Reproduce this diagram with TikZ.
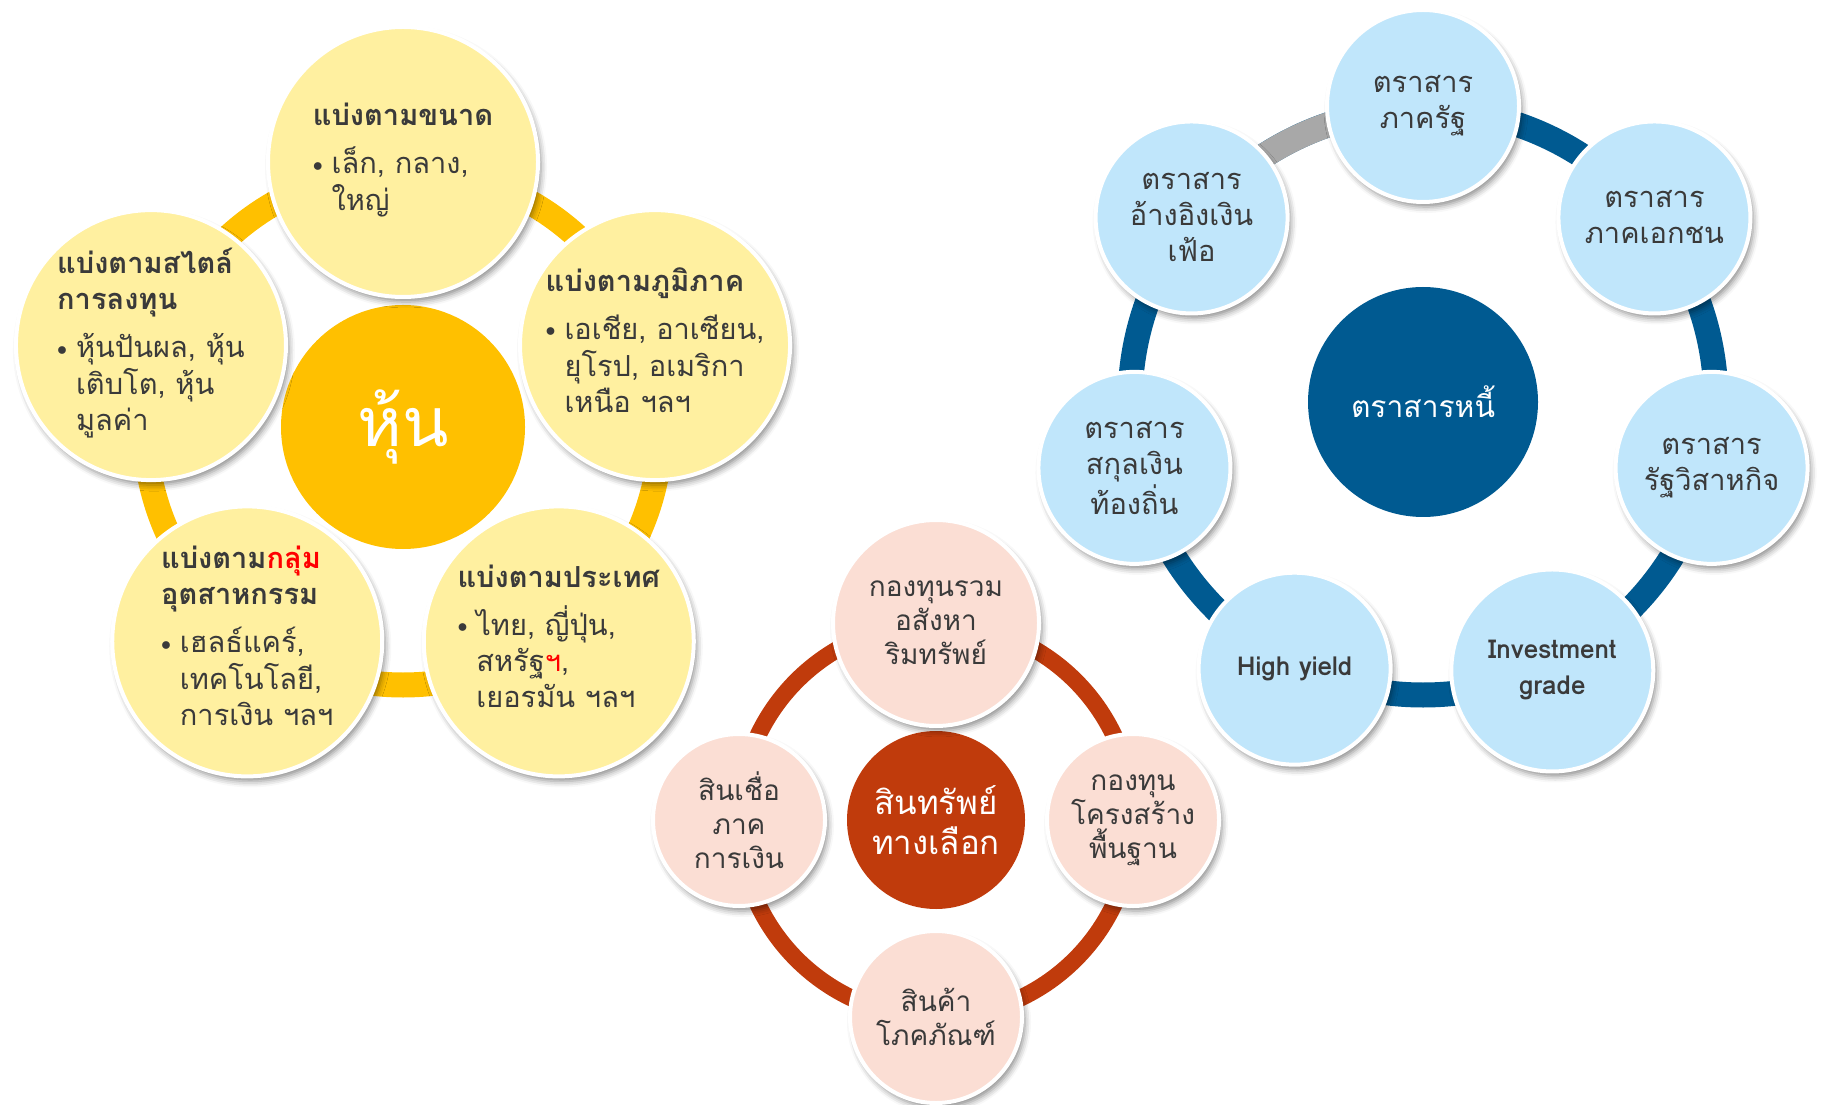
\documentclass[tikz,border=0pt]{standalone}
\usepackage{fontspec}
\setmainfont[Script=Thai]{Loma}
\usepackage{tikz}
\usetikzlibrary{calc}
\usetikzlibrary{shadows.blur}

\definecolor{gold}{HTML}{FFC000}
\definecolor{lightgold}{HTML}{FFF0A0}
\definecolor{debtblue}{HTML}{005A91}
\definecolor{skyblue}{HTML}{C0E6FB}
\definecolor{ringgray}{HTML}{A8A8A8}
\definecolor{rust}{HTML}{C03B0C}
\definecolor{peach}{HTML}{FBDED4}
\definecolor{darktext}{HTML}{3A3A3A}

\newcommand{\bulitem}[1]{\makebox[0.65em][l]{\raisebox{1.2pt}{\fontsize{10}{10}\selectfont$\bullet$}}\begin{tabular}[t]{@{}l@{}}#1\end{tabular}}

\begin{document}
\begin{tikzpicture}[x=0.5pt, y=0.5pt,
		  every node/.style = {align=center, text=darktext},
		  bubble/.style = {circle, draw=white, line width=2pt, inner sep=0pt,
		    blur shadow={shadow xshift=1.5pt, shadow yshift=-2.5pt, shadow blur radius=3pt, shadow opacity=45}},
		  stockbubble/.style = {bubble, fill=lightgold, minimum size=135pt, align=left, font=\fontsize{14.5}{18}\selectfont},
		  debtbubble/.style = {bubble, fill=skyblue, minimum size=96pt, font=\fontsize{14.5}{18}\selectfont},
		  altbubble/.style = {bubble, fill=peach, minimum size=86pt, font=\fontsize{14}{17}\selectfont},
		  hub/.style = {circle, inner sep=0pt, text=white}
		]
		  \useasboundingbox (0,0) rectangle (1823,1104);

		  % stock cycle
		  \coordinate (stockc) at (403,677);
		  \draw[gold, line width=12.5pt] (stockc) circle[radius=258];
		  \node[hub, fill=gold, minimum size=122pt, font=\fontsize{34}{40}\selectfont] (stock) at (stockc) {หุ้น};
		  \node[stockbubble] (bysize) at ($(stockc)+(90:265)$)
		    {\textbf{แบ่งตามขนาด}\\[6pt]\bulitem{เล็ก, กลาง,\\ใหญ่}};
		  \node[stockbubble] (byregion) at ($(stockc)+(18:265)$)
		    {\textbf{แบ่งตามภูมิภาค}\\[6pt]\bulitem{เอเชีย, อาเซียน,\\ยุโรป, อเมริกา\\เหนือ ฯลฯ}};
		  \node[stockbubble] (bycountry) at ($(stockc)+(-54:265)$)
		    {\textbf{แบ่งตามประเทศ}\\[6pt]\bulitem{ไทย, ญี่ปุ่น,\\สหรัฐ\textcolor{red}{ฯ},\\เยอรมัน ฯลฯ}};
		  \node[stockbubble] (bysector) at ($(stockc)+(-126:265)$)
		    {\textbf{แบ่งตาม\textcolor{red}{กลุ่ม}}\\\textbf{อุตสาหกรรม}\\[6pt]\bulitem{เฮลธ์แคร์,\\เทคโนโลยี,\\การเงิน ฯลฯ}};
		  \node[stockbubble] (bystyle) at ($(stockc)+(162:265)$)
		    {\textbf{แบ่งตามสไตล์}\\\textbf{การลงทุน}\\[6pt]\bulitem{หุ้นปันผล, หุ้น\\เติบโต, หุ้น\\มูลค่า}};

		  % debt cycle
		  \coordinate (debtc) at (1423,702);
		  \draw[debtblue, line width=12.5pt] (debtc) circle[radius=293];
		  \draw[ringgray, line width=12.5pt] ($(debtc)+(90:293)$) arc[start angle=90, end angle=141.43, radius=293];
		  \node[hub, fill=debtblue, minimum size=115pt, font=\fontsize{15}{20}\selectfont] (debt) at (debtc) {ตราสารหนี้};
		  \node[debtbubble] (govt) at ($(debtc)+(90:296)$) {ตราสาร\\ภาครัฐ};
		  \node[debtbubble] (corp) at ($(debtc)+(38.57:296)$) {ตราสาร\\ภาคเอกชน};
		  \node[debtbubble] (soe) at ($(debtc)+(-12.86:296)$) {ตราสาร\\รัฐวิสาหกิจ};
		  \node[debtbubble, minimum size=101pt, font=\fontsize{13}{18}\selectfont\bfseries] (invgrade) at ($(debtc)+(-64.29:298)$) {Investment\\grade};
		  \node[debtbubble, font=\fontsize{13}{18}\selectfont\bfseries] (highyield) at ($(debtc)+(-115.71:296)$) {High yield};
		  \node[debtbubble] (localccy) at ($(debtc)+(-167.14:296)$) {ตราสาร\\สกุลเงิน\\ท้องถิ่น};
		  \node[debtbubble] (inflation) at ($(debtc)+(141.43:296)$) {ตราสาร\\อ้างอิงเงิน\\เฟ้อ};

		  % alternative assets cycle
		  \coordinate (altc) at (936,284);
		  \draw[rust, line width=8.5pt] (altc) circle[radius=197];
		  \node[hub, fill=rust, minimum size=89pt, font=\fontsize{16.5}{20}\selectfont] (alt) at (altc) {สินทรัพย์\\ทางเลือก};
		  \node[altbubble, minimum size=103pt] (reit) at ($(altc)+(90:197)$) {กองทุนรวม\\อสังหา\\ริมทรัพย์};
		  \node[altbubble] (infra) at ($(altc)+(0:197)$) {กองทุน\\โครงสร้าง\\พื้นฐาน};
		  \node[altbubble] (commod) at ($(altc)+(-90:197)$) {สินค้า\\โภคภัณฑ์};
		  \node[altbubble] (credit) at ($(altc)+(180:197)$) {สินเชื่อ\\ภาค\\การเงิน};
		\end{tikzpicture}
\end{document}
